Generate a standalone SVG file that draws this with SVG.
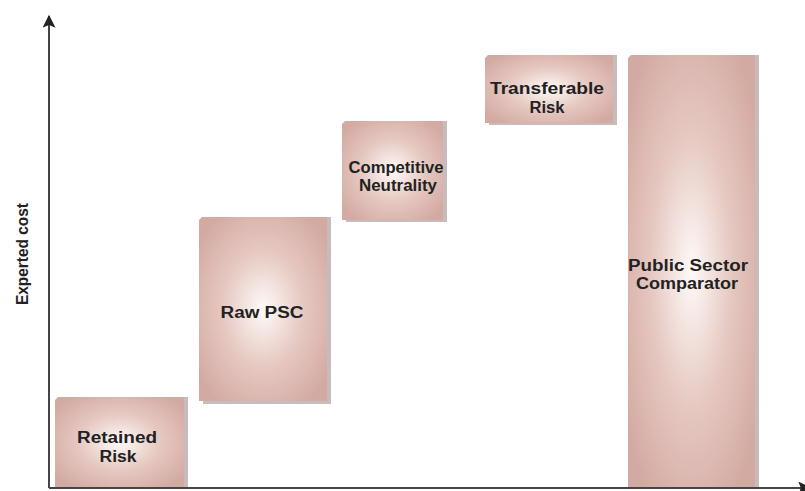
<svg xmlns="http://www.w3.org/2000/svg" width="805" height="491" viewBox="0 0 805 491">
  <defs>
    <radialGradient id="glow" cx="50%" cy="50%" r="62%">
      <stop offset="0" stop-color="#fefaf8"/>
      <stop offset="0.5" stop-color="#e6c9c2"/>
      <stop offset="1" stop-color="#d3aaa2"/>
    </radialGradient>
    <marker id="arrow" viewBox="0 0 10 10" refX="9" refY="5" markerWidth="15" markerHeight="13" markerUnits="userSpaceOnUse" orient="auto">
      <path d="M0,0 L10,5 L0,10 L2,5 Z" fill="#222"/>
    </marker>
  </defs>
  <style>
    .shade { fill: #c7bcbb; }
    .face { fill: url(#glow); }
    .label { font-family: "Liberation Sans", Arial, sans-serif; font-weight: bold; font-size: 16px; fill: #222; text-anchor: middle; }
    .axis { stroke: #444; stroke-width: 2; fill: none; }
  </style>
  <rect width="805" height="491" fill="#fff"/>

  <g id="connectors">
    <line class="axis" x1="49" y1="488" x2="49" y2="16" marker-end="url(#arrow)"/>
    <line class="axis" x1="49" y1="488" x2="810" y2="488" marker-end="url(#arrow)"/>
  </g>

  <text class="label" font-size="17" textLength="102" lengthAdjust="spacingAndGlyphs" transform="translate(28,254) rotate(-90)">Experted cost</text>

  <g id="retained-risk">
    <rect class="shade" x="60" y="397" width="128" height="90"/>
    <polygon class="face" points="58,397 184,397 184,487 55,487 55,400"/>
    <text class="label" x="117" y="443" textLength="80" lengthAdjust="spacingAndGlyphs">Retained</text>
    <text class="label" x="118" y="461.5" textLength="37" lengthAdjust="spacingAndGlyphs">Risk</text>
  </g>

  <g id="raw-psc">
    <rect class="shade" x="203" y="217" width="128" height="187"/>
    <polygon class="face" points="202,217 327,217 327,401 199,401 199,220"/>
    <text class="label" x="262" y="318" font-size="17.5" textLength="83" lengthAdjust="spacingAndGlyphs">Raw PSC</text>
  </g>

  <g id="competitive-neutrality">
    <rect class="shade" x="346" y="121" width="101" height="101"/>
    <polygon class="face" points="345,121 443,121 443,220 342,220 342,124"/>
    <text class="label" x="396" y="173" textLength="95" lengthAdjust="spacingAndGlyphs">Competitive</text>
    <text class="label" x="398" y="191" textLength="78" lengthAdjust="spacingAndGlyphs">Neutrality</text>
  </g>

  <g id="transferable-risk">
    <rect class="shade" x="489" y="55" width="128" height="70"/>
    <polygon class="face" points="488,55 613,55 613,123 485,123 485,58"/>
    <text class="label" x="547" y="94" textLength="114" lengthAdjust="spacingAndGlyphs">Transferable</text>
    <text class="label" x="547" y="113" textLength="35" lengthAdjust="spacingAndGlyphs">Risk</text>
  </g>

  <g id="public-sector-comparator">
    <rect class="shade" x="632" y="55" width="127" height="432"/>
    <polygon class="face" points="631,55 755,55 755,487 628,487 628,58"/>
    <text class="label" x="688" y="270.5" textLength="120" lengthAdjust="spacingAndGlyphs">Public Sector</text>
    <text class="label" x="687" y="289" textLength="102" lengthAdjust="spacingAndGlyphs">Comparator</text>
  </g>
</svg>
